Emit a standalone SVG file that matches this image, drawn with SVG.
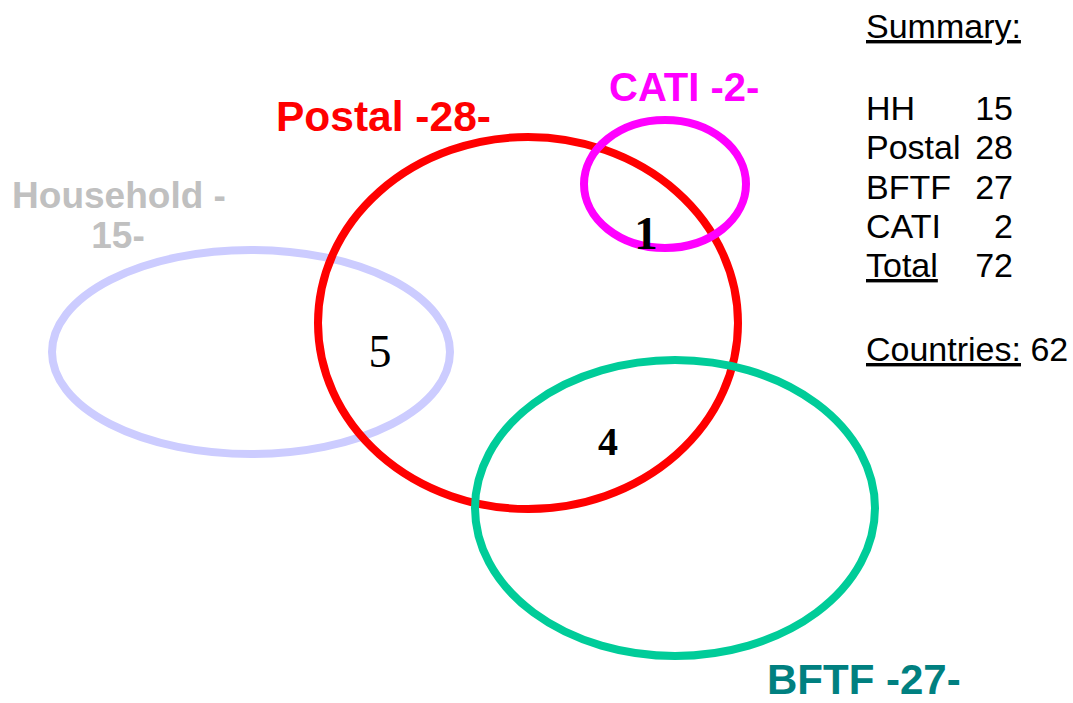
<svg xmlns="http://www.w3.org/2000/svg" width="1073" height="703" viewBox="0 0 1073 703">
<style>
.ring{fill:none;stroke-width:8}
.lbl{font-family:"Liberation Sans",Arial,sans-serif;font-weight:bold}
.sum{font-family:"Liberation Sans",Arial,sans-serif;font-size:34px;fill:#000}
.num{font-family:"Liberation Serif","Times New Roman",serif;fill:#000}
</style>
<rect width="1073" height="703" fill="#fff"/>
<g id="household">
<ellipse class="ring" cx="251" cy="352" rx="199" ry="102" stroke="#CCCCFF"/>
<text class="lbl" x="119" y="208" font-size="37" fill="#C0C0C0" text-anchor="middle">Household -</text>
<text class="lbl" x="118" y="248" font-size="37" fill="#C0C0C0" text-anchor="middle">15-</text>
</g>
<g id="postal">
<ellipse class="ring" cx="528" cy="323" rx="210" ry="186" stroke="#FF0000"/>
<text class="lbl" x="276" y="131" font-size="42.5" fill="#FF0000">Postal -28-</text>
</g>
<g id="cati">
<ellipse class="ring" cx="665" cy="184" rx="81" ry="64" stroke="#FF00FF" stroke-width="7"/>
<text class="lbl" x="609" y="101" font-size="40" fill="#FF00FF">CATI -2-</text>
</g>
<g id="bftf">
<ellipse class="ring" cx="675" cy="508" rx="200" ry="148" stroke="#00CC99"/>
<text class="lbl" x="767" y="694" font-size="42" fill="#008080">BFTF -27-</text>
</g>
<g id="counts">
<text class="num" x="646" y="249" font-size="47" font-weight="bold" text-anchor="middle">1</text>
<text class="num" x="380" y="367" font-size="46" text-anchor="middle">5</text>
<text class="num" x="608" y="455" font-size="40" font-weight="bold" text-anchor="middle">4</text>
</g>
<g id="connectors"></g>
<g id="summary">
<text class="sum" x="866" y="38" text-decoration="underline">Summary:</text>
<text class="sum" x="866" y="120">HH</text>
<text class="sum" x="1013" y="120" text-anchor="end">15</text>
<text class="sum" x="866" y="159">Postal</text>
<text class="sum" x="1013" y="159" text-anchor="end">28</text>
<text class="sum" x="866" y="198.5">BFTF</text>
<text class="sum" x="1013" y="198.5" text-anchor="end">27</text>
<text class="sum" x="866" y="238">CATI</text>
<text class="sum" x="1013" y="238" text-anchor="end">2</text>
<text class="sum" x="866" y="277" text-decoration="underline">Total</text>
<text class="sum" x="1013" y="277" text-anchor="end">72</text>
<text class="sum" x="866" y="361"><tspan text-decoration="underline">Countries:</tspan> 62</text>
</g>
</svg>
